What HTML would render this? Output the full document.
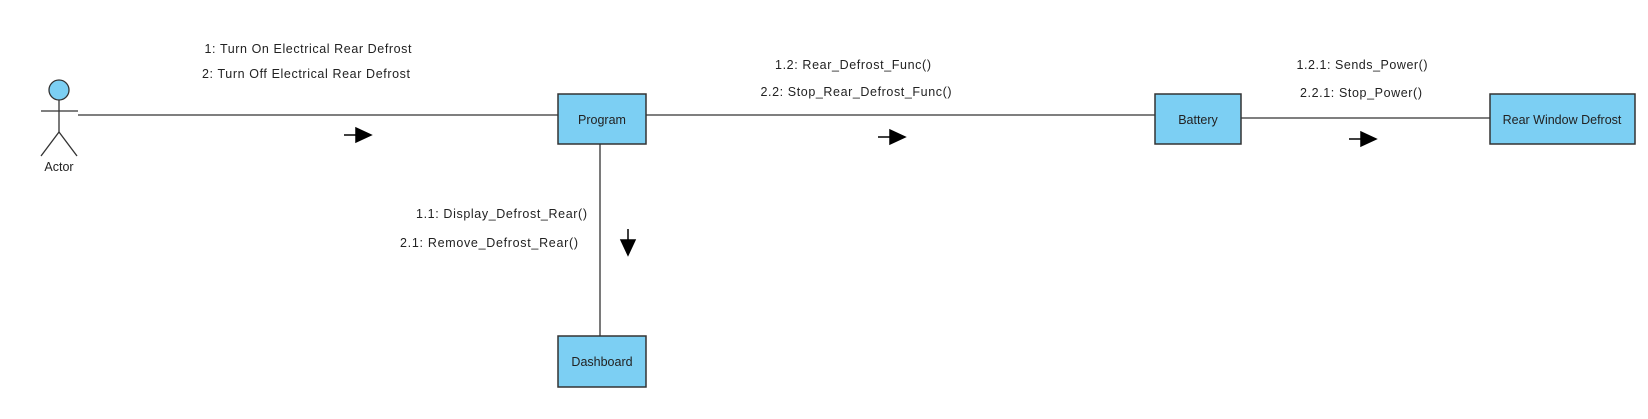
<!DOCTYPE html>
<html><head><meta charset="utf-8"><style>
html,body{margin:0;padding:0;background:#fff;}
svg{display:block;}
text{font-family:"Liberation Sans",Arial,sans-serif;font-size:12.5px;fill:#222;}
</style></head><body>
<svg width="1648" height="419" viewBox="0 0 1648 419" xmlns="http://www.w3.org/2000/svg">
<g stroke="#333" stroke-width="1.3" fill="none">
<line x1="78" y1="115" x2="558" y2="115"/>
<line x1="646" y1="115" x2="1155" y2="115"/>
<line x1="1241" y1="118" x2="1490" y2="118"/>
<line x1="600" y1="144" x2="600" y2="336"/>
<line x1="41" y1="111" x2="78" y2="111"/>
<line x1="59" y1="100" x2="59" y2="132"/>
<line x1="59" y1="132" x2="41" y2="156"/>
<line x1="59" y1="132" x2="77" y2="156"/>
</g>
<circle cx="59" cy="90" r="10" fill="#7ccff3" stroke="#333" stroke-width="1.3"/>
<g fill="#7ccff3" stroke="#333" stroke-width="1.5">
<rect x="558" y="94" width="88" height="50"/>
<rect x="1155" y="94" width="86" height="50"/>
<rect x="1490" y="94" width="145" height="50"/>
<rect x="558" y="336" width="88" height="51"/>
</g>
<g stroke="#000" stroke-width="1.5" fill="#000">
<line x1="344" y1="135" x2="356" y2="135"/><polygon points="356,128 371,135 356,142"/>
<line x1="878" y1="137" x2="890" y2="137"/><polygon points="890,130 905,137 890,144"/>
<line x1="1349" y1="139" x2="1361" y2="139"/><polygon points="1361,132 1376,139 1361,146"/>
<line x1="628" y1="229" x2="628" y2="240"/><polygon points="621,240 635,240 628,255"/>
</g>
<g text-anchor="middle">
<text x="602" y="124">Program</text>
<text x="1198" y="124">Battery</text>
<text x="1562" y="124">Rear Window Defrost</text>
<text x="602" y="366">Dashboard</text>
<text x="59" y="171">Actor</text>
<text x="308" y="53" textLength="207">1: Turn On Electrical Rear Defrost</text>
<text x="306" y="78" textLength="208">2: Turn Off Electrical Rear Defrost</text>
<text x="853" y="69" textLength="156">1.2: Rear_Defrost_Func()</text>
<text x="856" y="96" textLength="191">2.2: Stop_Rear_Defrost_Func()</text>
<text x="1362" y="69" textLength="131">1.2.1: Sends_Power()</text>
<text x="1361" y="97" textLength="122">2.2.1: Stop_Power()</text>
</g>
<g text-anchor="end">
<text x="587" y="218" textLength="171">1.1: Display_Defrost_Rear()</text>
<text x="578" y="247" textLength="178">2.1: Remove_Defrost_Rear()</text>
</g>
</svg>
</body></html>
